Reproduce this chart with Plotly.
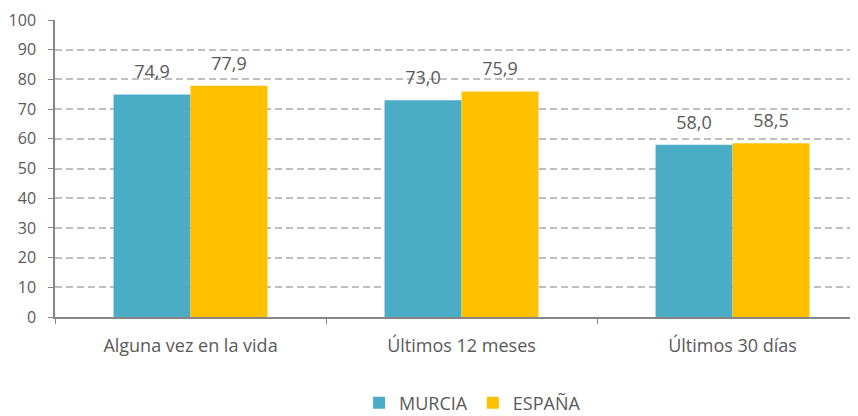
import plotly.graph_objects as go

categories = ["Alguna vez en la vida", "Últimos 12 meses", "Últimos 30 días"]
murcia = [74.9, 73.0, 58.0]
espana = [77.9, 75.9, 58.5]
y_ticks = [0, 10, 20, 30, 40, 50, 60, 70, 80, 90, 100]

FONT = "Open Sans"
GRAY = "#595959"

fig = go.Figure()
series = [("MURCIA", murcia, "#4BACC6"), ("ESPAÑA", espana, "#FFC000")]
for name, vals, col in series:
    fig.add_trace(go.Bar(
        name=name, x=categories, y=vals, marker_color=col,
        marker_line_width=0, offsetgroup=name, hoverinfo="skip",
    ))
for name, vals, col in series:
    fig.add_trace(go.Scatter(
        name=name, x=categories, y=vals, mode="markers+text",
        marker=dict(size=17, opacity=0), offsetgroup=name,
        text=[f"{v:.1f}".replace(".", ",") for v in vals],
        textposition="top center",
        textfont=dict(family=FONT, size=18, color=GRAY),
        showlegend=False, cliponaxis=False,
    ))

# page body has an 8px margin, so the figure is offset by 8px;
# the figure is a bit taller than the window (bottom is cropped off)
fig.update_layout(
    width=858, height=430,
    margin=dict(l=47, r=8, t=12, b=121),
    paper_bgcolor="white", plot_bgcolor="white",
    barmode="group", bargap=0.432, bargroupgap=0,
    scattermode="group", scattergap=0.432,
    separators=",.",
    font=dict(family=FONT, size=16, color=GRAY),
    showlegend=True,
    legend=dict(orientation="h", x=0.52, xanchor="center", y=-0.29, yanchor="middle",
                font=dict(family=FONT, size=18, color=GRAY), itemwidth=30,
                traceorder="normal"),
)
fig.update_xaxes(
    type="category", range=[-0.5, 2.463], automargin=False,
    showline=True, linecolor="#868686", linewidth=1.5,
    tickson="boundaries", ticks="outside", ticklen=5, tickcolor="#868686",
    showgrid=False, tickfont=dict(family=FONT, size=18, color=GRAY),
    ticklabelstandoff=12,
)
fig.update_yaxes(
    range=[0, 100], tickvals=y_ticks, automargin=False,
    showline=True, linecolor="#868686", linewidth=1.5,
    ticks="outside", ticklen=5, tickcolor="#868686",
    showgrid=True, gridcolor="#BFBFBF", griddash="7px,4px", gridwidth=1.6,
    zeroline=False, tickfont=dict(family=FONT, size=16, color=GRAY),
    ticklabelstandoff=9,
)

fig.write_html("out.html")
